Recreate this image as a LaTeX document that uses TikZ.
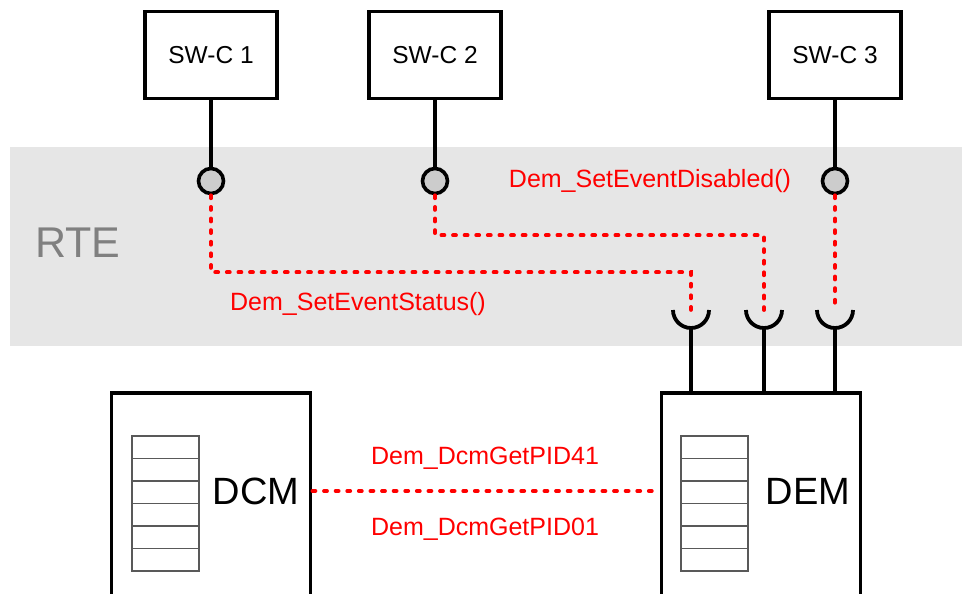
\documentclass[tikz,border=0pt]{standalone}
\usepackage{fontspec}
\setmainfont{Liberation Sans}
\usetikzlibrary{positioning}
\definecolor{rtegray}{HTML}{E6E6E6}
\definecolor{portgray}{HTML}{CCCCCC}
\definecolor{rtetext}{HTML}{808080}
\begin{document}
\begin{tikzpicture}[x=1pt,y=-1pt,
    swc/.style={draw,line width=3.2pt,minimum width=132pt,minimum height=87pt,font=\fontsize{24.5}{28}\selectfont},
    port/.style={circle,draw,line width=3.6pt,fill=portgray,minimum size=25pt,inner sep=0pt},
    stem/.style={line width=3.8pt},
    link/.style={red,line width=3.8pt,dash pattern=on 3pt off 8.6pt,line cap=round},
    ecu/.style={draw,line width=3.8pt,minimum width=199pt,minimum height=212pt,inner sep=0pt},
    apitext/.style={red,font=\fontsize{25}{29}\selectfont},
    bigtext/.style={font=\fontsize{38}{42}\selectfont}]
  \useasboundingbox (0,0) rectangle (962,594);
  \clip (0,0) rectangle (962,594);
  \fill[rtegray] (10,147) rectangle (962,346);
  \node[bigtext,text=rtetext,font=\fontsize{43}{47}\selectfont] (rte) at (78,243) {RTE};
  % components and their ports
  \foreach \n/\x in {1/211, 2/435, 3/835}{
    \node[swc] (sw\n) at (\x,55) {SW-C \n};
    \node[port] (p\n) at (\x,181) {};
    \draw[stem] (sw\n) -- (p\n);
  }
  \node[ecu] (dcm) at (211,499) {};
  \node[ecu] (dem) at (761,499) {};
  \node[bigtext] (dcmtxt) at (256,491) {DCM};
  \node[bigtext] (demtxt) at (808,491) {DEM};
  % tables
  \foreach \x in {132, 681}{
    \foreach \i in {0,...,5}{
      \draw[black!65,line width=1.3pt] (\x,436+22.5*\i) rectangle ++(67,22.5);
    }
  }
  % sockets on DEM
  \foreach \n/\x in {1/691, 2/764, 3/835}{
    \coordinate (s\n) at (\x,310);
    \draw[stem] (s\n) ++(-18,0) arc[start angle=180,end angle=0,radius=18];
    \coordinate (t\n) at (\x,328);
    \draw[stem] (t\n) -- (t\n |- dem.north);
  }
  \draw[link] (p1.south) -- ++(0,77) -| (s1);
  \draw[link] (p2.south) -- ++(0,40) -| (s2);
  \draw[link] (p3.south) -- (s3);
  \draw[link] (dcm.east |- dcmtxt) -- (dem.west |- dcmtxt);
  \node[apitext] (setstatus) at (358,304) {Dem\_SetEventStatus()};
  \node[apitext] (setdisabled) at (650,181) {Dem\_SetEventDisabled()};
  \node[apitext] (pid41) at (485,458) {Dem\_DcmGetPID41};
  \node[apitext] (pid01) at (485,529) {Dem\_DcmGetPID01};
\end{tikzpicture}
\end{document}
